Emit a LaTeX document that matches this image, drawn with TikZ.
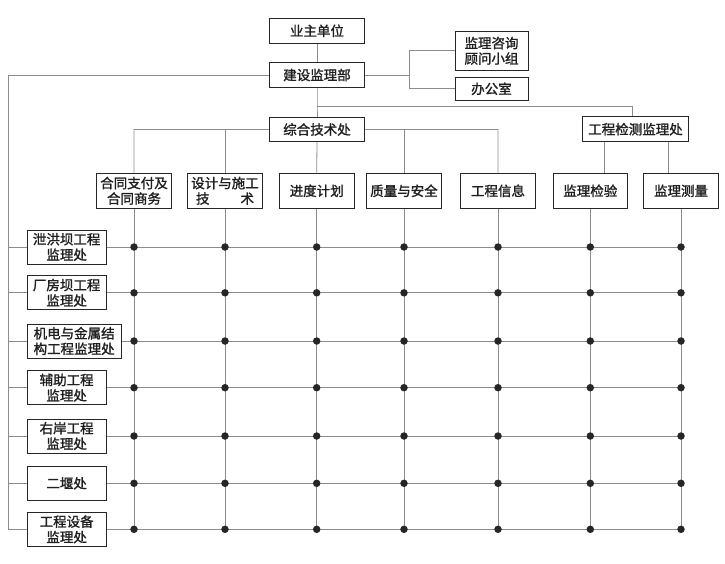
\documentclass[tikz,border=0pt]{standalone}
\usepackage{fontspec}
\newfontfamily\cjk[FakeBold=1.4]{Noto Sans CJK SC}
\usetikzlibrary{calc}
\begin{document}
\begin{tikzpicture}[x=1pt,y=-1pt,
  box/.style={draw=black!85, line width=0.9pt, fill=white, inner sep=0pt, align=center,
    font=\cjk\fontsize{13.5}{15.5}\selectfont, text=black!88},
  link/.style={draw=black!45, line width=0.8pt},
  dot/.style={circle, fill=black!85, inner sep=0pt, minimum size=7.5pt}]
\useasboundingbox (0,0) rectangle (725,563);

% top hierarchy
\node[box, minimum width=95.4pt, minimum height=25pt] (owner) at (317,30.8) {业主单位};
\node[box, minimum width=95.4pt, minimum height=24.6pt] (dept) at (317,75) {建设监理部};
\node[box, minimum width=73pt, minimum height=38.3pt] (consult) at (491.5,50.8) {监理咨询\\顾问小组};
\node[box, minimum width=73pt, minimum height=22.3pt] (office) at (491.5,88.8) {办公室};
\node[box, minimum width=95.4pt, minimum height=24.4pt] (tech) at (317,129.5) {综合技术处};
\node[box, minimum width=106.4pt, minimum height=25pt] (test) at (635.5,129.2) {工程检测监理处};

% second-level boxes
\foreach \i/\x/\t in {1/134/{合同支付及\\合同商务}, 2/225/{设计与施工\\技\hspace{2.3em}术},
    3/316.7/{进度计划}, 4/404/{质量与安全}, 5/498/{工程信息}, 6/590.3/{监理检验}, 7/681/{监理测量}}
  \node[box, minimum width=74.5pt, minimum height=35.5pt] (c\i) at (\x,190.8) {\t};

% left boxes
\foreach \j/\y/\w/\t in {1/247/79/{泄洪坝工程\\监理处}, 2/292.8/79/{厂房坝工程\\监理处},
    3/341/94/{机电与金属结\\构工程监理处}, 4/387.7/79/{辅助工程\\监理处},
    5/436/79/{右岸工程\\监理处}, 6/483.3/79/{二堰处}, 7/529.3/79/{工程设备\\监理处}}
  \node[box, anchor=west, minimum width=\w pt, minimum height=34pt] (r\j) at (26.7,\y) {\t};

% connectors, top part
\draw[link] (owner.south) -- (dept.north);
\coordinate (j1) at (409.3,75);
\draw[link] (dept.east) -- (j1);
\draw[link] (j1) |- (consult.west);
\draw[link] (j1) |- (office.west);
\coordinate (j2) at (317,106);
\coordinate (j3) at (632.7,106);
\draw[link] (dept.south) -- (j2) -- (tech.north);
\draw[link] (j2) -- (j3) -- (j3 |- test.north);
\coordinate (t1) at (134,129.4);
\coordinate (t2) at (225,129.4);
\coordinate (t4) at (404,129.4);
\coordinate (t5) at (498,129.4);
\draw[link] (tech.west) -- (t1) -- (c1.north);
\draw[link] (t2) -- (c2.north);
\draw[link] (tech.east) -- (t5) -- (c5.north);
\draw[link] (t4) -- (c4.north);
\draw[link] (tech.south) -- (c3.north);
\coordinate (s6) at (604.3,141.7);
\coordinate (s7) at (668.7,141.7);
\draw[link] (s6) -- (s6 |- c6.north);
\draw[link] (s7) -- (s7 |- c7.north);

% grid
\foreach \i in {1,...,7}
  \draw[link] (c\i.south) -- (c\i.south |- r7.center);
\foreach \j in {1,...,7}
  \draw[link] (r\j.east) -- (r\j.center -| c7.center);

% left spine
\coordinate (L) at (8.3,75);
\draw[link] (dept.west) -- (L) -- (L |- r7.west);
\foreach \j in {1,...,7}
  \draw[link] (L |- r\j.west) -- (r\j.west);

% dots
\foreach \i in {1,...,7}
  \foreach \j in {1,...,7}
    \node[dot] (d\i\j) at (c\i.center |- r\j.center) {};
\end{tikzpicture}
\end{document}
